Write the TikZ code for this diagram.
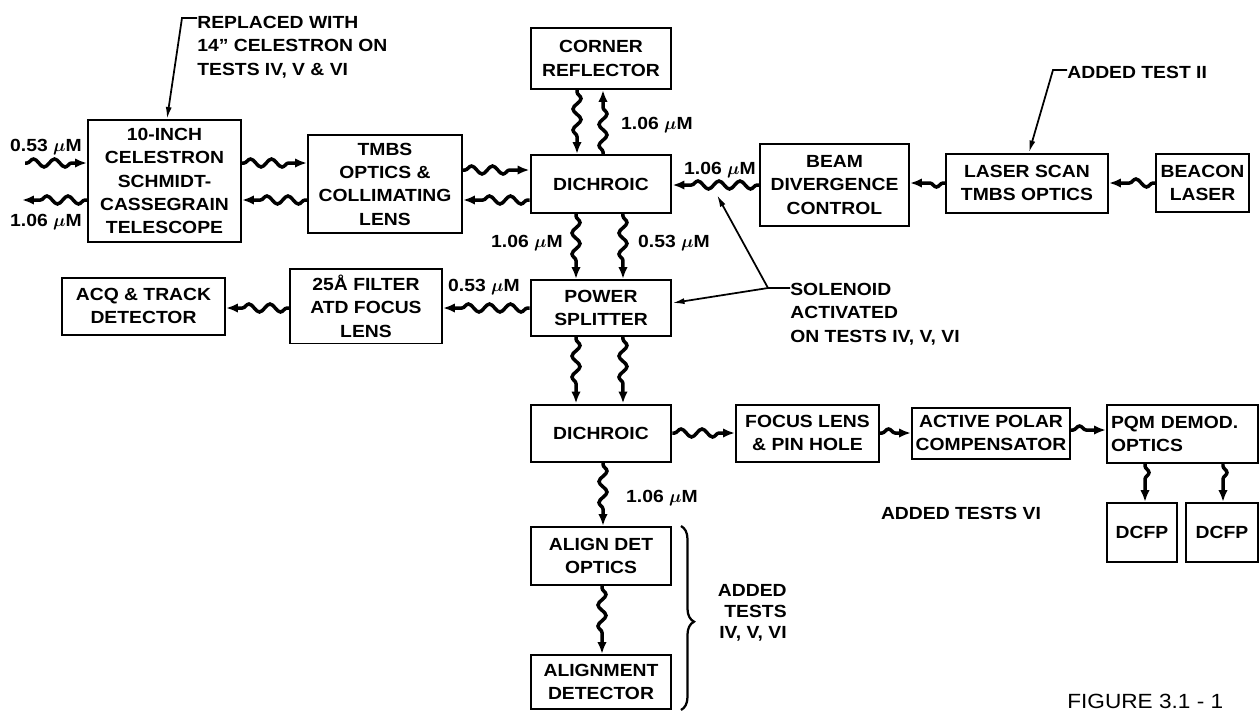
\documentclass[tikz,border=0pt]{standalone}
\usepackage{fontspec}
\setmainfont{Liberation Sans}[FakeStretch=1.1]
\usetikzlibrary{arrows.meta, decorations.pathmorphing, decorations.pathreplacing}
\newcommand{\micM}{$\mu$M}

\begin{document}
\begin{tikzpicture}[x=0.02cm, y=-0.02cm,
    font=\bfseries\fontsize{10}{13.3}\selectfont,
    box/.style 2 args={draw, line width=0.04cm, inner sep=1pt, align=center, minimum width=#1cm, minimum height=#2cm},
    wave/.style={line width=0.07cm, -{Latex[length=0.24cm, width=0.19cm]}, decorate,
        decoration={snake, amplitude=0.08cm, segment length=0.42cm, pre length=0.04cm, post length=0.28cm}},
    lbl/.style={inner sep=0pt, font=\bfseries\boldmath\fontsize{10}{12}\selectfont},
    txt/.style={inner sep=0pt, align=left},
    lead/.style={line width=0.035cm, -{Latex[length=0.24cm, width=0.12cm]}},
    grpbrace/.style={line width=0.045cm, decorate, decoration={brace, amplitude=0.26cm, aspect=0.52}}]
    \useasboundingbox (0,0) rectangle (1259,711);

    % Upper row
    \node[box={3.06}{2.44}] (tel) at (164.5,181) {10-INCH\\CELESTRON\\SCHMIDT-\\CASSEGRAIN\\TELESCOPE};
    \node[box={3.08}{1.96}] (tmbs) at (385,184) {TMBS\\OPTICS \&\\COLLIMATING\\LENS};
    \node[box={2.82}{1.22}] (corner) at (601,58.5) {CORNER\\REFLECTOR};
    \node[box={2.82}{1.16}] (dich1) at (601,184) {DICHROIC};
    \node[box={2.98}{1.64}] (beam) at (834.5,185) {BEAM\\DIVERGENCE\\CONTROL};
    \node[box={3.24}{1.18}] (scan) at (1027,183) {LASER SCAN\\TMBS OPTICS};
    \node[box={1.86}{1.16}] (beacon) at (1202.5,183) {BEACON\\LASER};

    % Middle row
    \node[box={3.26}{1.14}] (acq) at (143.5,306) {ACQ \& TRACK\\DETECTOR};
    \node[box={3.04}{1.5}] (filter) at (366,306) {25Å FILTER\\ATD FOCUS\\LENS};
    \node[box={2.82}{1.12}] (split) at (601,308) {POWER\\SPLITTER};

    % Lower row
    \node[box={2.82}{1.14}] (dich2) at (601,433) {DICHROIC};
    \node[box={2.86}{1.14}] (focus) at (807.5,433) {FOCUS LENS\\\& PIN HOLE};
    \node[box={3.16}{1.02}] (polar) at (991,433) {ACTIVE POLAR\\COMPENSATOR};
    \node[box={3.02}{1.16}, align=left, text width=2.86cm] (pqm) at (1182.5,434) {PQM DEMOD.\\OPTICS};
    \node[box={1.4}{1.18}] (dcfp1) at (1142,532.5) {DCFP};
    \node[box={1.44}{1.18}] (dcfp2) at (1222,532.5) {DCFP};
    \node[box={2.82}{1.16}] (align) at (601,556) {ALIGN DET\\OPTICS};
    \node[box={2.82}{1.08}] (alignd) at (601,682) {ALIGNMENT\\DETECTOR};

    % Free ends
    \coordinate (inL) at (25,163);
    \coordinate (outL) at (22,200);
    \coordinate (solj) at (768,288);
    \coordinate (hit) at (717,195);

    % Beam paths
    \draw[wave] (inL) -- (tel.west |- inL);
    \draw[wave] (tel.west |- outL) -- (outL);
    \draw[wave] ([yshift=0.36cm]tel.east) -- ([yshift=0.42cm]tmbs.west);
    \draw[wave] ([yshift=-0.32cm]tmbs.west) -- ([yshift=-0.38cm]tel.east);
    \draw[wave] ([yshift=0.28cm]tmbs.east) -- ([yshift=0.28cm]dich1.west);
    \draw[wave] ([yshift=-0.32cm]dich1.west) -- ([yshift=-0.32cm]tmbs.east);
    \draw[wave] ([xshift=-0.48cm]corner.south) -- ([xshift=-0.48cm]dich1.north);
    \draw[wave] ([xshift=0.04cm]dich1.north) -- ([xshift=0.04cm]corner.south);
    \draw[wave] (beam.west) -- ([yshift=-0.02cm]dich1.east);
    \draw[wave] (scan.west) -- ([yshift=0.04cm]beam.east);
    \draw[wave] (beacon.west) -- (scan.east);
    \draw[wave] ([xshift=-0.5cm]dich1.south) -- ([xshift=-0.5cm]split.north);
    \draw[wave] ([xshift=0.44cm]dich1.south) -- ([xshift=0.44cm]split.north);
    \draw[wave] (split.west) -- ([yshift=-0.04cm]filter.east);
    \draw[wave] ([yshift=-0.04cm]filter.west) -- ([yshift=-0.04cm]acq.east);
    \draw[wave] ([xshift=-0.5cm]split.south) -- ([xshift=-0.5cm]dich2.north);
    \draw[wave] ([xshift=0.44cm]split.south) -- ([xshift=0.44cm]dich2.north);
    \draw[wave] (dich2.east) -- (focus.west);
    \draw[wave] (focus.east) -- (polar.west);
    \draw[wave] ([yshift=0.06cm]polar.east) -- ([yshift=0.08cm]pqm.west);
    \draw[wave] ([xshift=-0.75cm]pqm.south) -- ([xshift=0.06cm]dcfp1.north);
    \draw[wave] ([xshift=0.81cm]pqm.south) -- ([xshift=0.02cm]dcfp2.north);
    \draw[wave] ([xshift=0.04cm]dich2.south) -- ([xshift=0.04cm]align.north);
    \draw[wave] ([xshift=0.02cm]align.south) -- ([xshift=0.02cm]alignd.north);

    % Wavelength labels
    \node[lbl] (w1) at (46,147) {0.53 \micM};
    \node[lbl] (w2) at (46,222) {1.06 \micM};
    \node[lbl] (w3) at (657,125) {1.06 \micM};
    \node[lbl] (w4) at (720,170) {1.06 \micM};
    \node[lbl] (w5) at (527,243) {1.06 \micM};
    \node[lbl] (w6) at (674,243) {0.53 \micM};
    \node[lbl] (w7) at (484,287) {0.53 \micM};
    \node[lbl] (w8) at (662,498) {1.06 \micM};

    % Notes with leaders
    \node[txt, anchor=north west] (repl) at (197,16) {REPLACED WITH\\14'' CELESTRON ON\\TESTS IV, V \& VI};
    \draw[lead] ([yshift=-0.04cm]repl.north west) -- (182,18) -- ([xshift=0.05cm]tel.north);
    \node[txt, anchor=west] (added2) at (1067,72) {ADDED TEST II};
    \draw[lead] ([yshift=0.04cm]added2.west) -- (1053,70) -- ([xshift=0.04cm]scan.north);
    \node[txt, anchor=north west] (sol) at (790,283) {SOLENOID\\ACTIVATED\\ON TESTS IV, V, VI};
    \draw[line width=0.035cm] ([yshift=-0.1cm]sol.north west) -- (solj);
    \draw[lead] (solj) -- (hit);
    \draw[lead] (solj) -- ([yshift=0.1cm]split.east);

    % Added tests
    \draw[grpbrace] ([xshift=0.17cm]align.north east) -- ([xshift=0.17cm]alignd.south east);
    \node[txt, align=right, anchor=east, font=\bfseries\fontsize{10}{12}\selectfont] (added4) at (787,613) {ADDED\\TESTS\\IV, V, VI};
    \node[txt] (added6) at (961,513) {ADDED TESTS VI};
    \node[anchor=base west, inner sep=0pt, font=\fontsize{11.7}{14}\selectfont] (fig) at (1067,708) {FIGURE 3.1 - 1};
\end{tikzpicture}
\end{document}
